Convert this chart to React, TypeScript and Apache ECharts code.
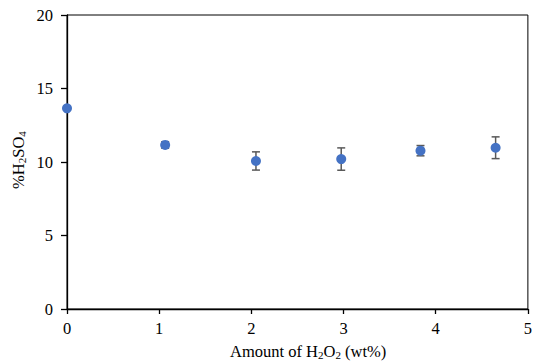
import React, { useEffect, useRef } from "react";
import * as echarts from "echarts";

const h2o2Amount = [0, 1.065, 2.05, 2.975, 3.835, 4.65];
const h2so4Percent = [13.65, 11.16, 10.07, 10.2, 10.77, 10.97];
const errorPlusMinus = [0, 0.22, 0.62, 0.76, 0.35, 0.74];
const xTicks = [0, 1, 2, 3, 4, 5];
const yTicks = [0, 5, 10, 15, 20];

export default function App() {
  const ref = useRef<HTMLDivElement>(null);
  useEffect(() => {
    if (!ref.current) return;
    const chart = echarts.init(ref.current, undefined, { renderer: "svg" });
    const font = "'Liberation Serif', 'Times New Roman', serif";
    const errData = h2o2Amount.map((x, i) => [
      x,
      h2so4Percent[i] - errorPlusMinus[i],
      h2so4Percent[i] + errorPlusMinus[i],
    ]);
    const tickRich = { t: { fontFamily: font, fontSize: 16.5, color: "#000" } };
    chart.setOption({
      animation: false,
      backgroundColor: "#ffffff",
      textStyle: { fontFamily: font },
      grid: {
        left: 67,
        right: 3,
        top: 15,
        bottom: 54,
        show: true,
        borderColor: "#000000",
        borderWidth: 1,
        backgroundColor: "transparent",
      },
      xAxis: {
        type: "value",
        min: xTicks[0],
        max: xTicks[xTicks.length - 1],
        interval: 1,
        axisLine: { show: true, onZero: false, lineStyle: { color: "#000", width: 1.3 } },
        axisTick: { show: true, length: 5, lineStyle: { color: "#000", width: 1.3 } },
        axisLabel: {
          color: "#000",
          fontFamily: font,
          fontSize: 16.5,
          margin: 11,
          formatter: (v: number) => `{t|${v}}`,
          rich: tickRich,
        },
        splitLine: { show: false },
      },
      yAxis: {
        type: "value",
        min: yTicks[0],
        max: yTicks[yTicks.length - 1],
        interval: 5,
        axisLine: { show: true, onZero: false, lineStyle: { color: "#000", width: 1.3 } },
        axisTick: { show: true, length: 6, lineStyle: { color: "#000", width: 1.3 } },
        axisLabel: {
          color: "#000",
          fontFamily: font,
          fontSize: 16.5,
          margin: 14,
          formatter: (v: number) => `{t|${v}}`,
          rich: tickRich,
        },
        splitLine: { show: false },
      },
      graphic: [
        {
          type: "text",
          left: 230,
          top: 343,
          style: {
            text: "Amount of H{s|2}O{s|2} (wt%)",
            font: `16.5px ${font}`,
            fill: "#000",
            rich: {
              s: { fontSize: 11, fontFamily: font, fill: "#000", padding: [7, 0, 0, 0] },
            },
          },
        },
        {
          type: "text",
          x: 18,
          y: 160,
          rotation: Math.PI / 2,
          style: {
            text: "%H{s|2}SO{s|4}",
            font: `16.5px ${font}`,
            fill: "#000",
            align: "center",
            verticalAlign: "middle",
            rich: {
              s: { fontSize: 11, fontFamily: font, fill: "#000", padding: [7, 0, 0, 0] },
            },
          },
        },
      ],
      series: [
        {
          type: "custom",
          data: errData,
          z: 1,
          renderItem: (params: any, api: any) => {
            const x = api.value(0);
            const lo = api.coord([x, api.value(1)]);
            const hi = api.coord([x, api.value(2)]);
            const cap = 4;
            const style = { stroke: "#595959", lineWidth: 1.5 };
            return {
              type: "group",
              children: [
                { type: "line", shape: { x1: lo[0], y1: lo[1], x2: hi[0], y2: hi[1] }, style },
                { type: "line", shape: { x1: lo[0] - cap, y1: lo[1], x2: lo[0] + cap, y2: lo[1] }, style },
                { type: "line", shape: { x1: hi[0] - cap, y1: hi[1], x2: hi[0] + cap, y2: hi[1] }, style },
              ],
            };
          },
        },
        {
          type: "scatter",
          z: 2,
          symbol: "circle",
          symbolSize: 10,
          itemStyle: { color: "#4472C4", opacity: 1 },
          data: h2o2Amount.map((x, i) => [x, h2so4Percent[i]]),
        },
      ],
    });
    return () => chart.dispose();
  }, []);
  return <div ref={ref} style={{ width: 535, height: 363, position: "absolute", left: 0, top: 0 }} />;
}
